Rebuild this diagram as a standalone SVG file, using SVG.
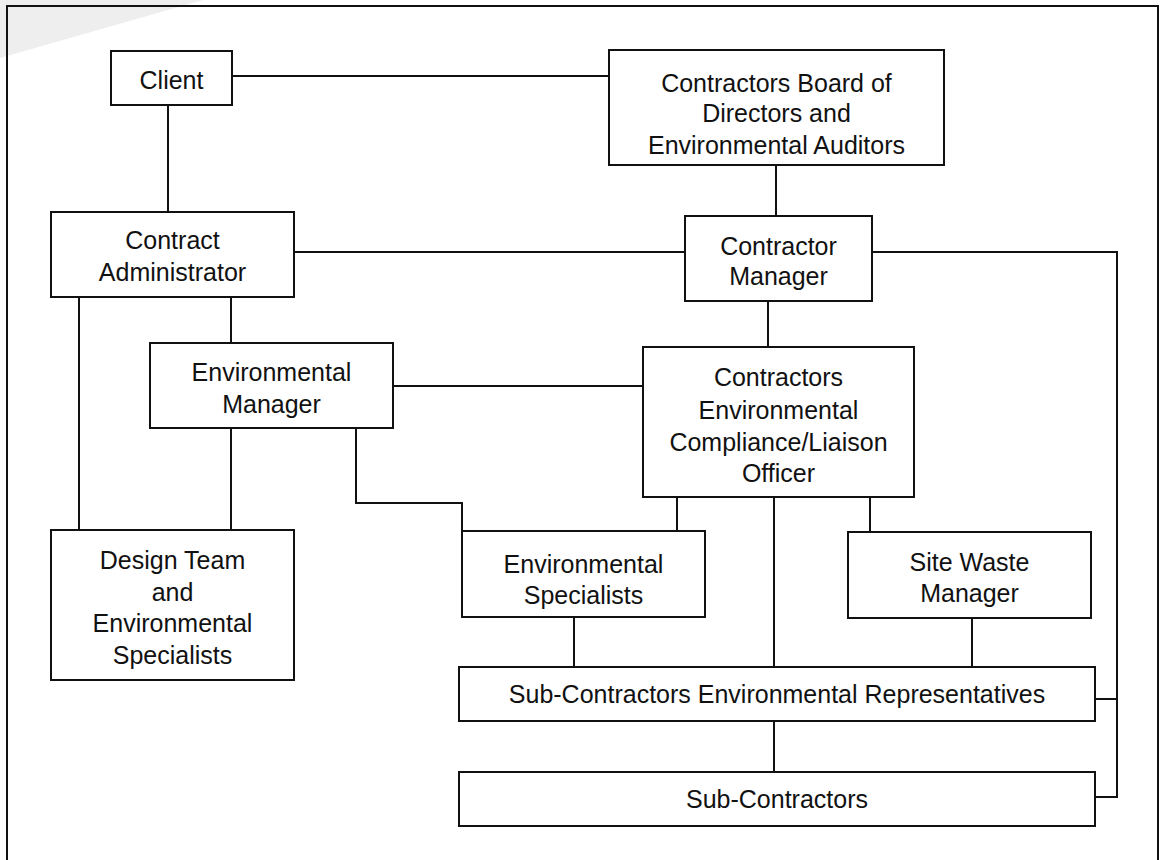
<svg xmlns="http://www.w3.org/2000/svg" width="1160" height="860" viewBox="0 0 1160 860">
<style>
.box{fill:#fff;stroke:#111;stroke-width:2}
.ln{fill:none;stroke:#111;stroke-width:2}
text{font-family:"Liberation Sans",Arial,sans-serif;font-size:25px;fill:#111;text-anchor:middle}
</style>
<rect x="0" y="0" width="1160" height="860" fill="#fff"/>
<polygon points="0,0 203,0 0,58" fill="#eeeeee"/>
<rect x="7" y="6" width="1151" height="870" fill="none" stroke="#111" stroke-width="2"/>
<g id="connectors" class="ln">
<line x1="232" y1="76" x2="609" y2="76"/>
<line x1="168" y1="105" x2="168" y2="212"/>
<line x1="776" y1="165" x2="776" y2="216"/>
<line x1="294" y1="252" x2="685" y2="252"/>
<polyline points="872,252 1117,252 1117,797 1095,797"/>
<line x1="1095" y1="699" x2="1117" y2="699"/>
<line x1="79" y1="297" x2="79" y2="530"/>
<line x1="231" y1="297" x2="231" y2="343"/>
<line x1="231" y1="428" x2="231" y2="530"/>
<line x1="768" y1="301" x2="768" y2="347"/>
<line x1="393" y1="386" x2="643" y2="386"/>
<polyline points="356,428 356,503 462,503 462,531"/>
<line x1="677" y1="497" x2="677" y2="531"/>
<line x1="870" y1="497" x2="870" y2="532"/>
<line x1="774" y1="497" x2="774" y2="667"/>
<line x1="574" y1="617" x2="574" y2="667"/>
<line x1="972" y1="618" x2="972" y2="667"/>
<line x1="774" y1="721" x2="774" y2="772"/>
</g>
<g id="client"><rect class="box" x="111" y="51" width="121" height="54"/><text x="171.5" y="89">Client</text></g>
<g id="board"><rect class="box" x="609" y="50" width="335" height="115"/><text x="776.5" y="92">Contractors Board of</text><text x="776.5" y="122">Directors and</text><text x="776.5" y="154">Environmental Auditors</text></g>
<g id="contract-admin"><rect class="box" x="51" y="212" width="243" height="85"/><text x="172.5" y="249">Contract</text><text x="172.5" y="281">Administrator</text></g>
<g id="contractor-manager"><rect class="box" x="685" y="216" width="187" height="85"/><text x="778.5" y="255">Contractor</text><text x="778.5" y="285">Manager</text></g>
<g id="env-manager"><rect class="box" x="150" y="343" width="243" height="85"/><text x="271.5" y="381">Environmental</text><text x="271.5" y="413">Manager</text></g>
<g id="officer"><rect class="box" x="643" y="347" width="271" height="150"/><text x="778.5" y="386">Contractors</text><text x="778.5" y="419">Environmental</text><text x="778.5" y="451">Compliance/Liaison</text><text x="778.5" y="482">Officer</text></g>
<g id="design-team"><rect class="box" x="51" y="530" width="243" height="150"/><text x="172.5" y="569">Design Team</text><text x="172.5" y="601">and</text><text x="172.5" y="632">Environmental</text><text x="172.5" y="664">Specialists</text></g>
<g id="env-specialists"><rect class="box" x="462" y="531" width="243" height="86"/><text x="583.5" y="573">Environmental</text><text x="583.5" y="604">Specialists</text></g>
<g id="site-waste"><rect class="box" x="848" y="532" width="243" height="86"/><text x="969.5" y="571">Site Waste</text><text x="969.5" y="602">Manager</text></g>
<g id="reps"><rect class="box" x="459" y="667" width="636" height="54"/><text x="777" y="703">Sub-Contractors Environmental Representatives</text></g>
<g id="subcontractors"><rect class="box" x="459" y="772" width="636" height="54"/><text x="777" y="808">Sub-Contractors</text></g>
</svg>
